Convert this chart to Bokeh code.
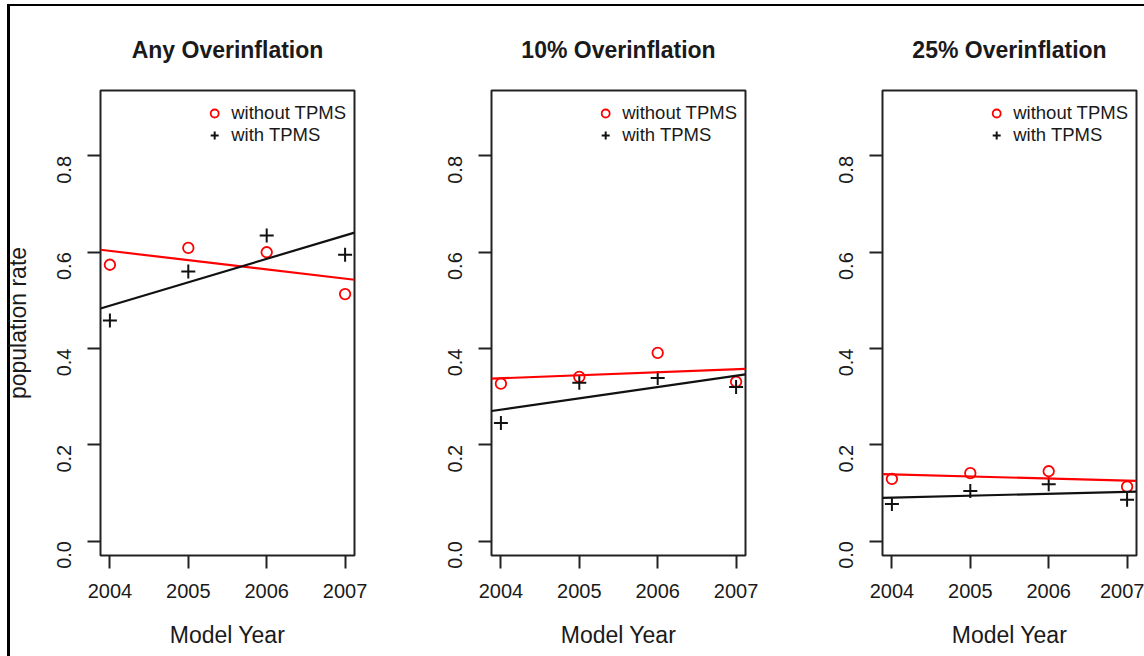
import math
import numpy as np
from bokeh.plotting import figure
from bokeh.layouts import row
from bokeh.models import FixedTicker, PrintfTickFormatter, Legend, LegendItem, Range1d
from bokeh.embed import file_html
from bokeh.resources import INLINE

# ---- data ----
years = [2004, 2005, 2006, 2007]
titles = ["Any Overinflation", "10% Overinflation", "25% Overinflation"]
any_without = [0.574, 0.609, 0.600, 0.513]
any_with = [0.458, 0.560, 0.635, 0.595]
p10_without = [0.327, 0.341, 0.391, 0.331]
p10_with = [0.245, 0.329, 0.339, 0.320]
p25_without = [0.129, 0.141, 0.145, 0.113]
p25_with = [0.077, 0.104, 0.118, 0.086]
y_ticks = [0.0, 0.2, 0.4, 0.6, 0.8]
legend_labels = ["without TPMS", "with TPMS"]
x_label = "Model Year"
y_label = "population rate"

FONT = "Liberation Sans"
TXT = "#1a1a1a"


def make_panel(title, y_without, y_with, width, border_right, show_ylabel):
    p = figure(width=width, height=656,
               x_range=Range1d(2003.88, 2007.12), y_range=Range1d(-0.030, 0.936),
               output_backend="svg", toolbar_location=None,
               min_border_left=100, min_border_right=border_right,
               min_border_top=90, min_border_bottom=101, title=title)
    p.border_fill_color = None
    p.background_fill_color = "white"
    p.outline_line_color = "#222222"
    p.outline_line_width = 2
    p.grid.visible = False

    p.title.align = "center"
    p.title.text_font = FONT
    p.title.text_font_size = "23px"
    p.title.text_font_style = "bold"
    p.title.text_color = TXT
    p.title.standoff = 56

    for ax in (p.xaxis[0], p.yaxis[0]):
        ax.axis_line_color = None
        ax.major_tick_line_color = "#222222"
        ax.major_tick_line_width = 2
        ax.major_tick_in = 0
        ax.major_tick_out = 13
        ax.minor_tick_line_color = None
        ax.major_label_text_font = FONT
        ax.major_label_text_font_size = "20px"
        ax.major_label_text_color = TXT
        ax.axis_label_text_font = FONT
        ax.axis_label_text_font_size = "23px"
        ax.axis_label_text_font_style = "normal"
        ax.axis_label_text_color = TXT

    p.xaxis.ticker = FixedTicker(ticks=years)
    p.xaxis.formatter = PrintfTickFormatter(format="%d")
    p.xaxis.major_label_standoff = 15
    p.xaxis.axis_label = x_label
    p.xaxis.axis_label_standoff = 21

    p.yaxis.ticker = FixedTicker(ticks=y_ticks)
    p.yaxis.formatter = PrintfTickFormatter(format="%.1f")
    p.yaxis.major_label_orientation = math.pi / 2
    p.yaxis.major_label_standoff = 23
    if show_ylabel:
        p.yaxis.axis_label = y_label
        p.yaxis.axis_label_standoff = 17

    r_wo = p.scatter(years, y_without, marker="circle", size=10.5,
                     fill_color=None, line_color="#ff0000", line_width=1.8)
    r_w = p.scatter(years, y_with, marker="cross", size=14,
                    line_color="#111111", line_width=2)

    # least-squares lines, drawn across the full x range (like abline)
    xr = [p.x_range.start, p.x_range.end]
    for ys, col in ((y_without, "#ff0000"), (y_with, "#111111")):
        b, a = np.polyfit(np.array(years, dtype=float), np.array(ys, dtype=float), 1)
        p.line(xr, [a + b * x for x in xr], line_color=col, line_width=2.2)

    legend = Legend(items=[LegendItem(label=legend_labels[0], renderers=[r_wo]),
                           LegendItem(label=legend_labels[1], renderers=[r_w])],
                    location="top_right")
    legend.title = " "
    legend.title_text_font_size = "1px"
    legend.title_standoff = 3
    legend.border_line_color = None
    legend.background_fill_alpha = 0
    legend.label_text_font = FONT
    legend.label_text_font_size = "18.5px"
    legend.label_text_color = TXT
    legend.glyph_width = 20
    legend.glyph_height = 22
    legend.label_standoff = 7
    legend.label_height = 22
    legend.spacing = 0
    legend.margin = 8
    legend.padding = 3
    p.add_layout(legend)
    return p


p1 = make_panel(titles[0], any_without, any_with, 391, 37, True)
p2 = make_panel(titles[1], p10_without, p10_with, 391, 37, False)
p3 = make_panel(titles[2], p25_without, p25_with, 362, 8, False)

frame_css = ("linear-gradient(#000,#000) 7px 4px / 3px 100% no-repeat, "
             "linear-gradient(#000,#000) 7px 4px / 100% 2px no-repeat")
layout = row(p1, p2, p3, styles={"background": frame_css})

open("out.html", "w").write(file_html(layout, INLINE))
